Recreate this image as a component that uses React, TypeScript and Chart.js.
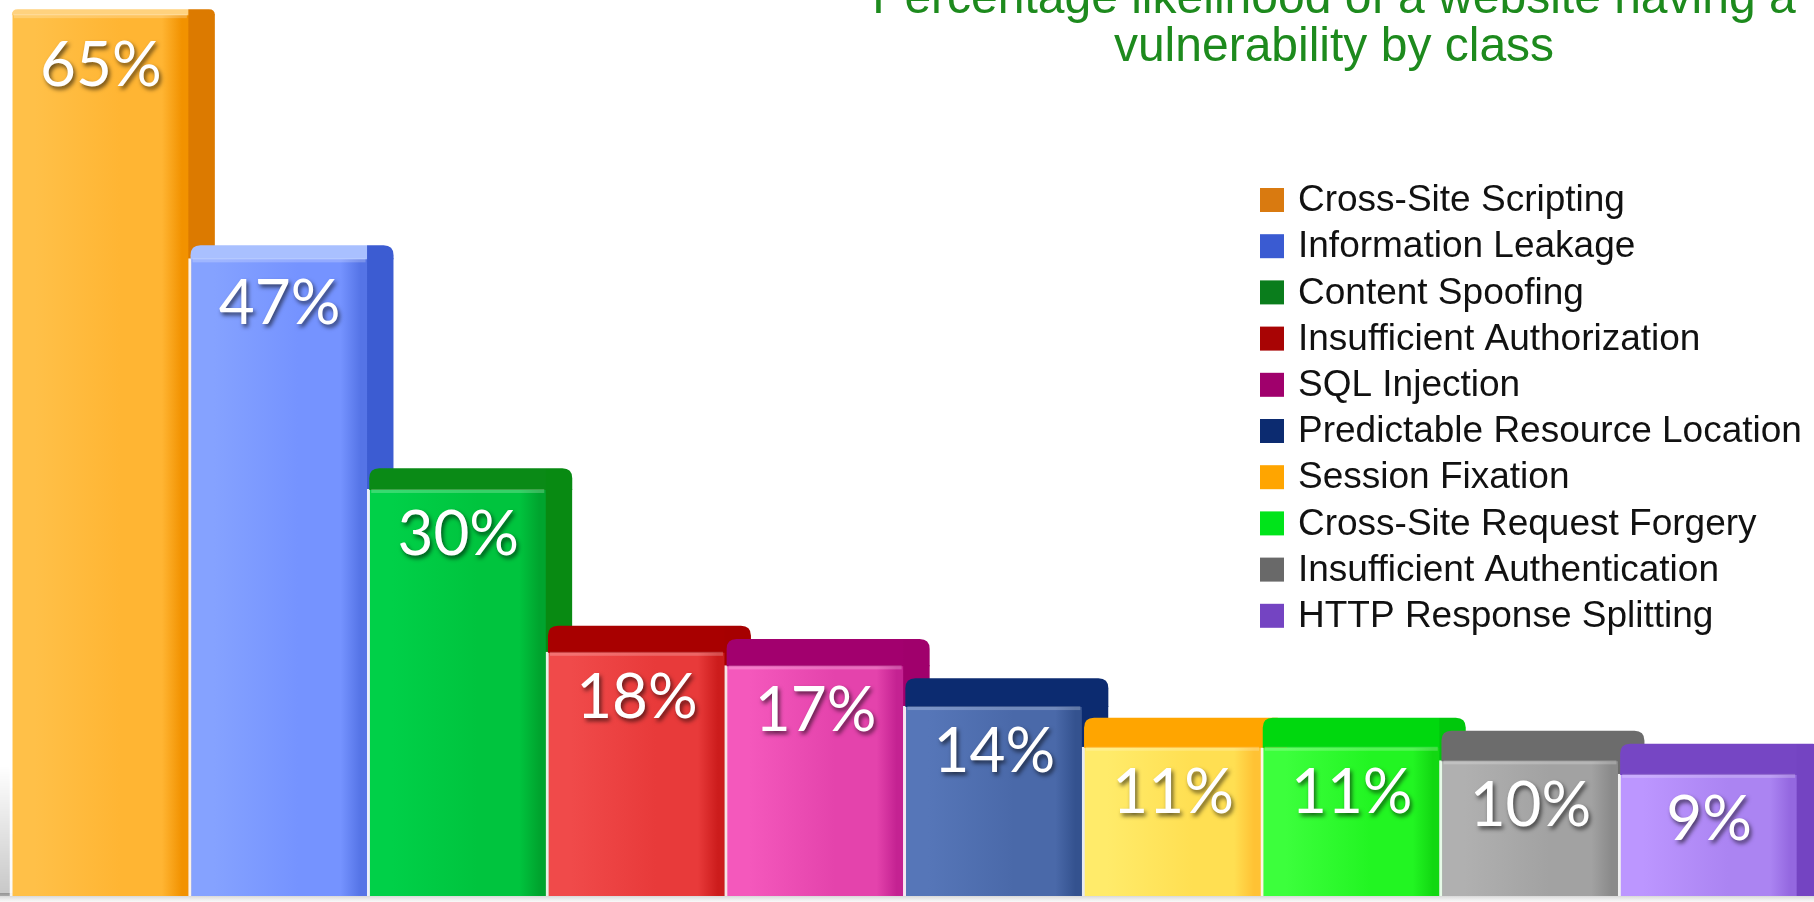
import React, { useEffect, useRef } from "react";
import { Chart, registerables } from "chart.js";

Chart.register(...registerables);

// ---------- data ----------
const categories = [
  "Cross-Site Scripting",
  "Information Leakage",
  "Content Spoofing",
  "Insufficient Authorization",
  "SQL Injection",
  "Predictable Resource Location",
  "Session Fixation",
  "Cross-Site Request Forgery",
  "Insufficient Authentication",
  "HTTP Response Splitting",
];
const likelihood = [65, 47, 30, 18, 17, 14, 11, 11, 10, 9];
const titleLines = ["Percentage likelihood of a website having a", "vulnerability by class"];
const yMin = 0;
const yMax = 65.6;

// ---------- styles ----------
const legendColors = ["#d97a10", "#3a5bd2", "#0a7d1c", "#a80404", "#a0006c", "#0c2b70", "#ffa500", "#00e41a", "#696969", "#7444c2"];
const frontLight = ["#ffc048", "#85a2ff", "#00d048", "#f04a4a", "#f458bc", "#5676b8", "#ffeb6a", "#3cff3c", "#b0b0b0", "#bc96ff"];
const frontMid = ["#ffb533", "#7593ff", "#00c43e", "#e83a3a", "#e443ac", "#4a69a9", "#ffdf52", "#22f522", "#a2a2a2", "#ab84f2"];
const frontDark = ["#f29200", "#5574e6", "#00a42e", "#cc1c1c", "#c42292", "#34528f", "#ffc234", "#12d812", "#8a8a8a", "#9468e0"];
const sideColors = ["#dc7a00", "#3c5cd2", "#088a12", "#a60000", "#a0006c", "#0c2b70", "#ffa500", "#00c80c", "#6c6c6c", "#7444c2"];
const topColors = ["#ffd27e", "#a9c0ff", "#0a8a16", "#a80000", "#a2006e", "#0c2b70", "#ffa500", "#00d80e", "#6c6c6c", "#7646c4"];

const BAR_W = 205;
const FRONT_W = 179;

function frontGradient(context: any) {
  const chart = context.chart;
  const i = context.dataIndex;
  const xScale = chart.scales && chart.scales.x;
  if (i === undefined || !xScale || !chart.ctx) return frontMid[i ?? 0];
  const cx = xScale.getPixelForValue(i);
  if (!isFinite(cx)) return frontMid[i];
  const left = cx - BAR_W / 2;
  const g = chart.ctx.createLinearGradient(left, 0, left + BAR_W, 0);
  const f = (px: number) => Math.min(1, Math.max(0, px / BAR_W));
  g.addColorStop(0, frontLight[i]);
  g.addColorStop(f(25), frontLight[i]);
  g.addColorStop(f(110), frontMid[i]);
  g.addColorStop(f(152), frontMid[i]);
  g.addColorStop(f(172), frontDark[i]);
  g.addColorStop(f(178), frontDark[i]);
  g.addColorStop(f(179), sideColors[i]);
  g.addColorStop(1, sideColors[i]);
  return g;
}

function roundedTopRect(ctx: CanvasRenderingContext2D, x: number, y: number, w: number, h: number, r: number) {
  const rr = Math.min(r, h, w / 2);
  ctx.beginPath();
  ctx.moveTo(x, y + h);
  ctx.lineTo(x, y + rr);
  ctx.quadraticCurveTo(x, y, x + rr, y);
  ctx.lineTo(x + w - rr, y);
  ctx.quadraticCurveTo(x + w, y, x + w, y + rr);
  ctx.lineTo(x + w, y + h);
  ctx.closePath();
}

const decorPlugin = {
  id: "decor3d",
  beforeDatasetsDraw(chart: any) {
    const ctx: CanvasRenderingContext2D = chart.ctx;
    const base = chart.scales.y.getPixelForValue(0);
    ctx.save();
    const g = ctx.createLinearGradient(0, base - 3, 0, chart.height);
    g.addColorStop(0, "rgba(110,110,110,0.45)");
    g.addColorStop(1, "rgba(210,210,210,0.15)");
    ctx.fillStyle = g;
    ctx.fillRect(0, base - 3, chart.width, chart.height - base + 3);
    const s = ctx.createLinearGradient(0, base - 130, 0, base);
    s.addColorStop(0, "rgba(0,0,0,0)");
    s.addColorStop(1, "rgba(0,0,0,0.22)");
    ctx.fillStyle = s;
    ctx.fillRect(0, base - 130, 13, 130);
    ctx.restore();
  },
  afterDatasetsDraw(chart: any) {
    const ctx: CanvasRenderingContext2D = chart.ctx;
    const meta = chart.getDatasetMeta(0);
    meta.data.forEach((bar: any, i: number) => {
      const { x, y, width } = bar.getProps(["x", "y", "width"], true);
      const left = x - width / 2;
      const depth = 0.033 * (y + 136);
      ctx.save();
      roundedTopRect(ctx, left + 2, y - depth, width - 2, depth + 1, 10);
      const tg = ctx.createLinearGradient(left, 0, left + width, 0);
      const f = (px: number) => Math.min(1, Math.max(0, px / width));
      tg.addColorStop(0, topColors[i]);
      tg.addColorStop(f(FRONT_W - 1), topColors[i]);
      tg.addColorStop(f(FRONT_W), sideColors[i]);
      tg.addColorStop(1, sideColors[i]);
      ctx.fillStyle = tg;
      ctx.fill();
      ctx.fillStyle = "rgba(255,255,255,0.22)";
      ctx.fillRect(left + 4, y, FRONT_W - 6, 4);
      ctx.restore();
    });
    ctx.save();
    ctx.font = "62px Lato, 'Open Sans', sans-serif";
    ctx.textAlign = "center";
    ctx.textBaseline = "middle";
    ctx.fillStyle = "#ffffff";
    ctx.shadowColor = "rgba(0,0,0,0.6)";
    ctx.shadowOffsetX = 2;
    ctx.shadowOffsetY = 3;
    ctx.shadowBlur = 4;
    meta.data.forEach((bar: any, i: number) => {
      const { x, y, width } = bar.getProps(["x", "y", "width"], true);
      const left = x - width / 2;
      const dy = i === 0 ? 52 : 46;
      ctx.fillText(likelihood[i] + "%", left + 3 + (FRONT_W - 3) / 2, y + dy);
    });
    ctx.restore();
  },
  afterDraw(chart: any) {
    const ctx: CanvasRenderingContext2D = chart.ctx;
    ctx.save();
    ctx.font = "48px 'Liberation Sans', Arial, sans-serif";
    ctx.fillStyle = "#1d8a1d";
    ctx.textAlign = "center";
    ctx.textBaseline = "alphabetic";
    ctx.fillText(titleLines[0], 1334, 13);
    ctx.fillText(titleLines[1], 1334, 61);
    ctx.font = "37px 'Liberation Sans', Arial, sans-serif";
    ctx.textAlign = "left";
    ctx.textBaseline = "middle";
    categories.forEach((name, i) => {
      const cy = 200 + i * 46.2;
      ctx.fillStyle = legendColors[i];
      ctx.fillRect(1260, cy - 12, 24, 24);
      ctx.fillStyle = "#111111";
      ctx.fillText(name, 1298, cy + 1);
    });
    ctx.restore();
  },
};

export default function App() {
  const canvasRef = useRef<HTMLCanvasElement | null>(null);

  useEffect(() => {
    const canvas = canvasRef.current;
    if (!canvas) return;
    const chart = new Chart(canvas, {
      type: "bar",
      data: {
        labels: categories,
        datasets: [
          {
            label: "Likelihood (%)",
            data: likelihood,
            backgroundColor: frontGradient as any,
            borderColor: "rgba(255,255,255,0.9)",
            borderWidth: { left: 3, top: 0, right: 0, bottom: 0 } as any,
            borderSkipped: "bottom",
            barThickness: BAR_W,
            clip: false as any,
          },
        ],
      },
      options: {
        animation: false,
        responsive: false,
        maintainAspectRatio: false,
        layout: { padding: { left: 23, right: 4, top: 6, bottom: 6 } },
        plugins: {
          legend: { display: false },
          title: { display: false },
          tooltip: { enabled: false },
        },
        scales: {
          x: { display: false, offset: true, grid: { display: false } },
          y: { display: false, min: yMin, max: yMax, grid: { display: false } },
        },
      },
      plugins: [decorPlugin],
    });
    return () => chart.destroy();
  }, []);

  return (
    <div style={{ position: "absolute", left: 0, top: 0, width: 1814, height: 902, background: "#ffffff", overflow: "hidden" }}>
      <canvas ref={canvasRef} width={1814} height={902} style={{ display: "block" }} />
    </div>
  );
}
